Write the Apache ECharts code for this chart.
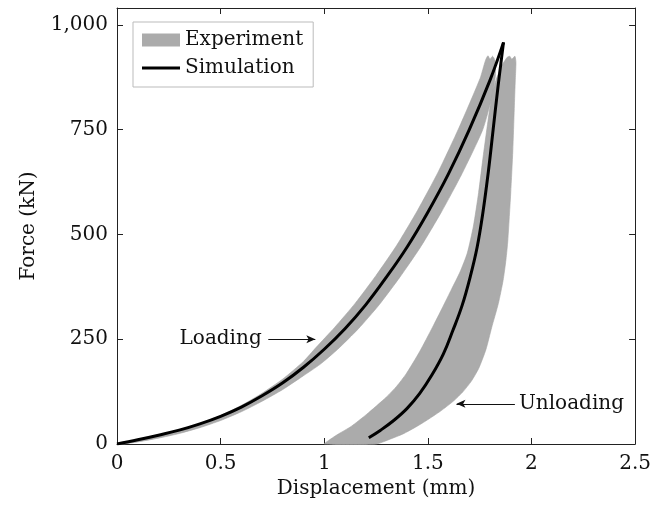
<!DOCTYPE html>
<html>
<head>
<meta charset="utf-8">
<script src="https://cdn.jsdelivr.net/npm/echarts@6/dist/echarts.min.js"></script>
<style>
html,body{margin:0;padding:0;background:#fff;}
#chart{width:654px;height:510px;}
</style>
</head>
<body>
<div id="chart"></div>
<script>
// ---- Data ----
const xTicks = [0, 0.5, 1, 1.5, 2, 2.5];
const yTicks = [0, 250, 500, 750, 1000];

// Simulation: loading branch
const simLoadX = [0, 0.1, 0.2, 0.3, 0.4, 0.5, 0.6, 0.7, 0.8, 0.9, 1.0, 1.1, 1.2, 1.3, 1.4, 1.5, 1.6, 1.7, 1.8, 1.865];
const simLoadY = [0, 10, 21, 33, 48, 66, 88, 115, 146, 183, 226, 275, 332, 398, 470, 553, 645, 750, 868, 958];
// Simulation: unloading branch
const simUnloadX = [1.865, 1.838, 1.815, 1.792, 1.765, 1.738, 1.705, 1.665, 1.62, 1.575, 1.52, 1.46, 1.40, 1.335, 1.272, 1.215];
const simUnloadY = [958, 850, 750, 650, 550, 470, 400, 330, 270, 215, 165, 120, 85, 56, 33, 15];

// Experiment band, loading part: upper edge (going up), then lower edge (going down)
const expLoadUpperX = [0, 0.1, 0.2, 0.3, 0.4, 0.5, 0.6, 0.7, 0.8, 0.9, 0.96, 1.05, 1.15, 1.25, 1.35, 1.45, 1.55, 1.65, 1.752, 1.778, 1.79, 1.80, 1.812, 1.824];
const expLoadUpperY = [0, 11, 22, 34, 49, 68, 92, 121, 155, 197, 230, 278, 336, 402, 474, 557, 649, 754, 872, 915, 926, 918, 925, 915];
const expLoadLowerX = [1.826, 1.81, 1.765, 1.665, 1.565, 1.465, 1.365, 1.265, 1.165, 1.065, 0.98, 0.9, 0.8, 0.7, 0.6, 0.5, 0.4, 0.3, 0.2, 0.1, 0.03];
const expLoadLowerY = [880, 830, 750, 645, 553, 470, 398, 332, 275, 226, 190, 163, 130, 102, 77, 56, 39, 25, 14, 5, 0];

// Experiment band, unloading part: left edge (going down), then right edge (going up)
const expUnloadLeftX = [1.882, 1.86, 1.83, 1.808, 1.79, 1.768, 1.745, 1.72, 1.69, 1.655, 1.615, 1.57, 1.522, 1.46, 1.395, 1.35, 1.30, 1.205, 1.13, 1.062, 1.02, 1.0];
const expUnloadLeftY = [922, 905, 870, 829, 770, 690, 600, 520, 455, 410, 370, 325, 278, 220, 167, 138, 112, 71, 42, 22, 8, 0];
const expUnloadRightX = [1.25, 1.32, 1.38, 1.44, 1.49, 1.56, 1.625, 1.67, 1.71, 1.745, 1.78, 1.808, 1.84, 1.863, 1.877, 1.886, 1.90, 1.91, 1.917, 1.922, 1.925, 1.92, 1.905, 1.895];
const expUnloadRightY = [0, 12, 24, 40, 55, 78, 103, 125, 150, 180, 225, 278, 335, 390, 440, 486, 600, 700, 800, 870, 910, 925, 918, 925];

const annotationLabels = ['Loading', 'Unloading'];

// ---- Build ----
const zip = (xs, ys) => xs.map((x, i) => [x, ys[i]]);
const loadingBand = zip(expLoadUpperX, expLoadUpperY).concat(zip(expLoadLowerX, expLoadLowerY));
const unloadingBand = zip(expUnloadLeftX, expUnloadLeftY).concat(zip(expUnloadRightX, expUnloadRightY));
const bands = [loadingBand, unloadingBand];

const FONT = 'DejaVu Serif';
const FS = 20;
const TXT = '#111';
const AX = '#222';
const BAND = '#ababab';

const chart = echarts.init(document.getElementById('chart'), null, {renderer: 'canvas'});

const baseAxisX = {
  type: 'value', min: 0, max: 2.5, interval: 0.5,
  splitLine: {show: false},
  axisLine: {show: true, onZero: false, lineStyle: {color: AX, width: 1}},
  axisTick: {show: true, inside: true, length: 6, lineStyle: {color: AX, width: 1}}
};
const baseAxisY = {
  type: 'value', min: 0, max: 1040, interval: 250,
  splitLine: {show: false},
  axisLine: {show: true, onZero: false, lineStyle: {color: AX, width: 1}},
  axisTick: {show: true, inside: true, length: 6, lineStyle: {color: AX, width: 1}}
};

chart.setOption({
  animation: false,
  backgroundColor: '#fff',
  grid: {left: 117, right: 12, top: 8, bottom: 66, containLabel: false},
  legend: {
    orient: 'vertical', left: 133, top: 22,
    data: [
      {name: 'Experiment', icon: 'rect'},
      {name: 'Simulation', icon: 'path://M0,0H38V3H0Z'}
    ],
    itemWidth: 38, itemHeight: 13, itemGap: 8,
    padding: [8, 10, 9, 9],
    borderColor: '#bbb', borderWidth: 1, borderRadius: 0, backgroundColor: '#fff',
    selectedMode: false,
    textStyle: {fontFamily: FONT, fontSize: FS, color: TXT}
  },
  xAxis: [
    Object.assign({}, baseAxisX, {
      position: 'bottom',
      axisLabel: {show: true, fontFamily: FONT, fontSize: FS, color: TXT, margin: 10,
        formatter: v => xTicks.includes(v) ? String(v) : ''},
      name: 'Displacement (mm)', nameLocation: 'middle', nameGap: 35,
      nameTextStyle: {fontFamily: FONT, fontSize: FS, color: TXT}
    }),
    Object.assign({}, baseAxisX, {position: 'top', axisLabel: {show: false}})
  ],
  yAxis: [
    Object.assign({}, baseAxisY, {
      position: 'left',
      axisLabel: {show: true, showMaxLabel: false, fontFamily: FONT, fontSize: FS, color: TXT, margin: 9,
        formatter: v => yTicks.includes(v) ? v.toLocaleString('en-US') : ''},
      name: 'Force (kN)', nameLocation: 'middle', nameGap: 78,
      nameTextStyle: {fontFamily: FONT, fontSize: FS, color: TXT}
    }),
    Object.assign({}, baseAxisY, {position: 'right', axisLabel: {show: false}})
  ],
  series: [
    {
      name: 'Experiment', type: 'custom', xAxisIndex: 0, yAxisIndex: 0,
      itemStyle: {color: BAND},
      data: bands.map((b, i) => [i]),
      encode: {x: 0},
      renderItem: function (params, api) {
        const pts = bands[params.dataIndex].map(p => api.coord(p));
        return {
          type: 'polygon',
          shape: {points: pts, smooth: 0.2},
          style: {fill: BAND, stroke: '#a2a2a2', lineWidth: 0.6}
        };
      },
      z: 1
    },
    {
      name: 'Simulation', type: 'line', xAxisIndex: 0, yAxisIndex: 0,
      data: zip(simLoadX, simLoadY), smooth: 0.4, showSymbol: false, symbol: 'none',
      lineStyle: {color: '#000', width: 3}, itemStyle: {color: '#000'}, z: 3,
      markLine: {
        silent: true, symbol: ['none', 'arrow'], symbolSize: [6, 9],
        lineStyle: {color: '#111', width: 1, type: 'solid'},
        label: {show: false},
        data: [
          [{coord: [0.73, 250]}, {coord: [0.957, 250]}],
          [{coord: [1.92, 96]}, {coord: [1.638, 96]}]
        ]
      },
      markPoint: {
        silent: true, symbol: 'circle', symbolSize: 0,
        label: {show: true, position: 'inside', formatter: p => p.name,
          fontFamily: FONT, fontSize: FS, color: TXT},
        data: [
          {name: annotationLabels[0], coord: [0.5, 250]},
          {name: annotationLabels[1], coord: [2.193, 96]}
        ]
      }
    },
    {
      name: 'Simulation', type: 'line', xAxisIndex: 0, yAxisIndex: 0,
      data: zip(simUnloadX, simUnloadY), smooth: 0.4, showSymbol: false, symbol: 'none',
      lineStyle: {color: '#000', width: 3}, itemStyle: {color: '#000'}, z: 3
    }
  ]
});
</script>
</body>
</html>
